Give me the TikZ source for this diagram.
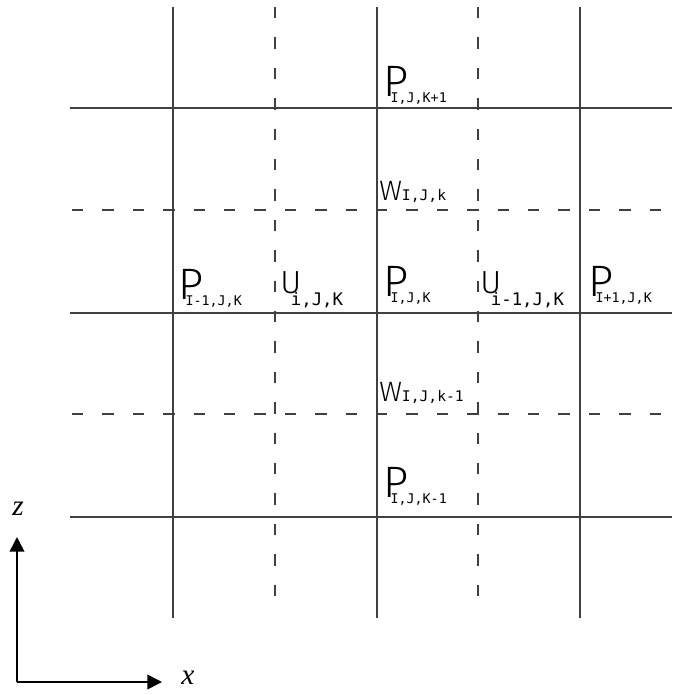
\documentclass[tikz,border=0pt]{standalone}
\usepackage{fontspec}
\setmainfont{Liberation Serif}
\newfontfamily\thinfont{Fira Sans Light}
\newfontfamily\subfont{DejaVu Sans Mono}
\usetikzlibrary{arrows.meta}
\newcommand{\plab}[1]{\makebox[5.5pt][l]{\fontsize{33}{33}\selectfont P}\raisebox{-4.5pt}{\subfont\fontsize{10}{10}\selectfont #1}}
\newcommand{\ulab}[1]{\makebox[8pt][l]{\fontsize{24}{24}\selectfont U}\raisebox{-9pt}{\subfont\fontsize{13}{13}\selectfont #1}}
\newcommand{\wlab}[1]{{\fontsize{21}{21}\selectfont W}{\subfont\fontsize{11}{11}\selectfont #1}}
\begin{document}
\begin{tikzpicture}[x=0.75pt,y=-0.75pt,
  gridsolid/.style={draw=black!75, line width=0.8pt},
  griddash/.style={gridsolid, dash pattern=on 8.6pt off 14.2pt},
  lab/.style={inner sep=0pt, anchor=base west, font=\thinfont},
  axis/.style={line width=1.2pt, -{Triangle[length=11pt,width=11pt]}},
  axlabel/.style={inner sep=0pt, font=\itshape\fontsize{22}{22}\selectfont}]
\useasboundingbox (0,0) rectangle (674,695);
% vertical grid lines
\draw[gridsolid] (173,7) -- (173,618);
\draw[gridsolid] (377,7) -- (377,618);
\draw[gridsolid] (580,7) -- (580,618);
\draw[griddash] (275,7) -- (275,611);
\draw[griddash] (478,7) -- (478,611);
% horizontal grid lines
\draw[gridsolid] (70,108) -- (672,108);
\draw[gridsolid] (70,313) -- (672,313);
\draw[gridsolid] (70,517) -- (672,517);
\draw[griddash] (72,210) -- (672,210);
\draw[griddash] (72,414) -- (672,414);
% labels
\node[lab] (p1) at (383,97) {\plab{I,J,K+1}};
\node[lab] (w1) at (379,201) {\wlab{I,J,k}};
\node[lab] (p2) at (178,299) {\plab{I-1,J,K}};
\node[lab] (u1) at (280,293) {\ulab{i,J,K}};
\node[lab] (p3) at (383,296) {\plab{I,J,K}};
\node[lab] (u2) at (480,293) {\ulab{i-1,J,K}};
\node[lab] (p4) at (588,296) {\plab{I+1,J,K}};
\node[lab] (w2) at (379,401) {\wlab{I,J,k-1}};
\node[lab] (p5) at (383,497) {\plab{I,J,K-1}};
% axes
\coordinate (O) at (17,682);
\coordinate (zt) at (17,537);
\coordinate (xt) at (162,682);
\draw[axis] (O) -- (zt);
\draw[axis] (O) -- (xt);
\node[axlabel] (zl) at (18,509) {z};
\node[axlabel] (xl) at (188,678) {x};
\end{tikzpicture}
\end{document}
